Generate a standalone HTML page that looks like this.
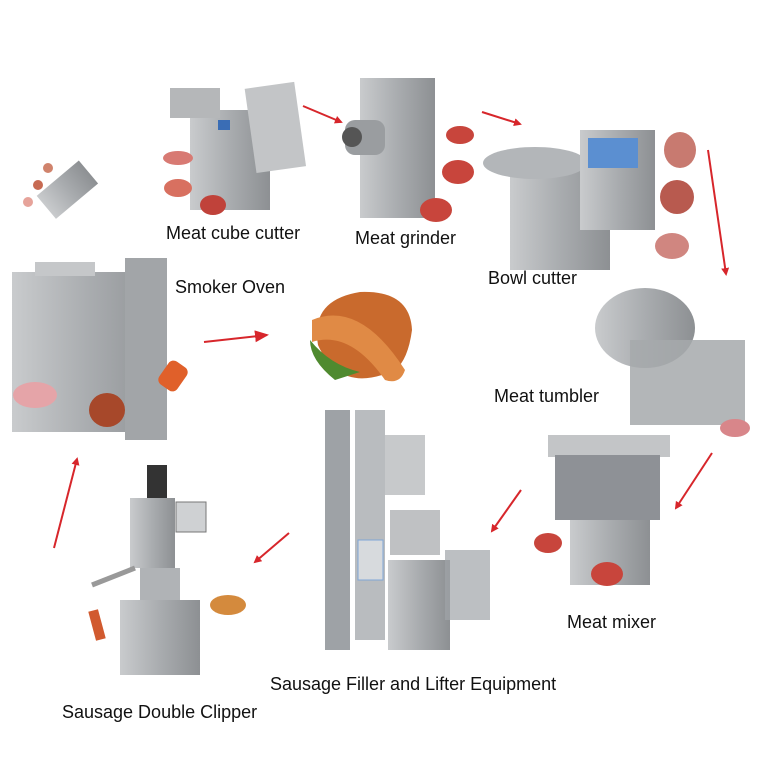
<!DOCTYPE html>
<html><head><style>
html,body{margin:0;padding:0;background:#fff;}
svg{display:block}
text{font-family:"Liberation Sans","DejaVu Sans",sans-serif;font-size:18px;fill:#111}
</style></head><body>
<svg width="768" height="768" viewBox="0 0 768 768" xmlns="http://www.w3.org/2000/svg">
<defs>
<linearGradient id="st" x1="0" x2="1"><stop offset="0" stop-color="#c9cbcd"/><stop offset="0.5" stop-color="#a9acaf"/><stop offset="1" stop-color="#8d9093"/></linearGradient>
<marker id="ah" markerWidth="8" markerHeight="8" refX="6" refY="4" orient="auto" markerUnits="userSpaceOnUse"><path d="M0,0 L8,4 L0,8 z" fill="#d7262b"/></marker>
<marker id="ah2" markerWidth="14" markerHeight="12" refX="12" refY="6" orient="auto" markerUnits="userSpaceOnUse"><path d="M0,0 L14,6 L0,12 z" fill="#d7262b"/></marker>
</defs>
<rect width="768" height="768" fill="#fff"/>
<!-- small clipper top-left -->
<rect x="40" y="175" width="55" height="30" fill="url(#st)" transform="rotate(-40 67 190)"/>
<circle cx="48" cy="168" r="5" fill="#d0836c"/><circle cx="38" cy="185" r="5" fill="#c76a52"/><circle cx="28" cy="202" r="5" fill="#e6a39a"/>
<!-- meat cube cutter -->
<rect x="190" y="110" width="80" height="100" fill="url(#st)"/>
<rect x="170" y="88" width="50" height="30" fill="#b5b7b9"/>
<rect x="250" y="85" width="50" height="85" fill="#c3c5c7" transform="rotate(-8 275 125)"/>
<rect x="218" y="120" width="12" height="10" fill="#3a6db5"/>
<ellipse cx="178" cy="158" rx="15" ry="7" fill="#d87a73"/><ellipse cx="178" cy="188" rx="14" ry="9" fill="#d87060"/><ellipse cx="213" cy="205" rx="13" ry="10" fill="#c0423a"/>
<!-- grinder -->
<rect x="360" y="78" width="75" height="140" fill="url(#st)"/>
<rect x="345" y="120" width="40" height="35" rx="10" fill="#9a9da0"/>
<circle cx="352" cy="137" r="10" fill="#555"/>
<ellipse cx="460" cy="135" rx="14" ry="9" fill="#c8453c"/><ellipse cx="458" cy="172" rx="16" ry="12" fill="#c8453c"/><ellipse cx="436" cy="210" rx="16" ry="12" fill="#c8453c"/>
<!-- bowl cutter -->
<rect x="510" y="165" width="100" height="105" fill="url(#st)"/>
<ellipse cx="535" cy="163" rx="52" ry="16" fill="#b3b6b9"/>
<rect x="580" y="130" width="75" height="100" fill="url(#st)"/>
<rect x="588" y="138" width="50" height="30" fill="#5b8fd1"/>
<ellipse cx="680" cy="150" rx="16" ry="18" fill="#c87a70"/><ellipse cx="677" cy="197" rx="17" ry="17" fill="#b85a4f"/><ellipse cx="672" cy="246" rx="17" ry="13" fill="#d08680"/>
<!-- tumbler -->
<ellipse cx="645" cy="328" rx="50" ry="40" fill="url(#st)"/>
<rect x="630" y="340" width="115" height="85" fill="#a6a9ac" opacity="0.85"/>
<ellipse cx="735" cy="428" rx="15" ry="9" fill="#d8868a"/>
<!-- mixer -->
<rect x="548" y="435" width="122" height="22" fill="#c3c5c7"/>
<rect x="555" y="455" width="105" height="65" fill="#8e9196"/>
<rect x="570" y="520" width="80" height="65" fill="url(#st)"/>
<ellipse cx="548" cy="543" rx="14" ry="10" fill="#c8453c"/><ellipse cx="607" cy="574" rx="16" ry="12" fill="#c8453c"/>
<!-- filler -->
<rect x="325" y="410" width="25" height="240" fill="#9ea2a6"/>
<rect x="355" y="410" width="30" height="230" fill="#b9bcbf"/>
<rect x="385" y="435" width="40" height="60" fill="#c7c9cb"/>
<rect x="390" y="510" width="50" height="45" fill="#bfc1c3"/>
<rect x="388" y="560" width="62" height="90" fill="url(#st)"/>
<rect x="358" y="540" width="25" height="40" fill="#d7dadd" stroke="#7fa6d6"/>
<rect x="445" y="550" width="45" height="70" fill="#a0a4a8" opacity="0.7"/>
<!-- clipper -->
<rect x="147" y="465" width="20" height="35" fill="#333"/>
<rect x="130" y="498" width="45" height="70" fill="url(#st)"/>
<rect x="176" y="502" width="30" height="30" fill="#cfd1d3" stroke="#777"/>
<rect x="120" y="600" width="80" height="75" fill="url(#st)"/>
<rect x="140" y="568" width="40" height="32" fill="#b0b3b6"/>
<line x1="92" y1="585" x2="135" y2="568" stroke="#999" stroke-width="5"/>
<ellipse cx="228" cy="605" rx="18" ry="10" fill="#d48a3d"/>
<rect x="92" y="610" width="10" height="30" fill="#d15a2f" transform="rotate(-15 97 625)"/>
<!-- smoker -->
<rect x="12" y="272" width="155" height="160" fill="url(#st)"/>
<rect x="125" y="258" width="42" height="182" fill="#a2a5a8"/>
<rect x="35" y="262" width="60" height="14" fill="#c5c7c9"/>
<ellipse cx="35" cy="395" rx="22" ry="13" fill="#e5a4a8"/>
<ellipse cx="107" cy="410" rx="18" ry="17" fill="#a7482a"/>
<rect x="162" y="362" width="22" height="28" rx="6" fill="#e0602a" transform="rotate(35 173 376)"/>
<!-- sausages -->
<path d="M318,345 Q310,300 360,292 Q410,290 412,330 Q408,360 395,370 Q340,395 318,345z" fill="#c96a2d"/>
<path d="M312,320 Q360,300 405,370 Q400,385 385,380 Q350,330 312,342z" fill="#e08a45"/>
<path d="M310,340 Q330,365 360,372 L335,380 Q310,360 310,340z" fill="#4f8a2f"/>
<!-- arrows -->
<g stroke="#d7262b" stroke-width="2" fill="none">
<line x1="303" y1="106" x2="341" y2="122" marker-end="url(#ah)"/>
<line x1="482" y1="112" x2="520" y2="124" marker-end="url(#ah)"/>
<line x1="708" y1="150" x2="726" y2="274" marker-end="url(#ah)"/>
<line x1="712" y1="453" x2="676" y2="508" marker-end="url(#ah)"/>
<line x1="521" y1="490" x2="492" y2="531" marker-end="url(#ah)"/>
<line x1="289" y1="533" x2="255" y2="562" marker-end="url(#ah)"/>
<line x1="54" y1="548" x2="77" y2="459" marker-end="url(#ah)"/>
<line x1="204" y1="342" x2="267" y2="335" marker-end="url(#ah2)"/>
</g>
<!-- labels -->
<text x="166" y="239">Meat cube cutter</text>
<text x="355" y="244">Meat grinder</text>
<text x="488" y="284">Bowl cutter</text>
<text x="175" y="293">Smoker Oven</text>
<text x="494" y="402">Meat tumbler</text>
<text x="567" y="628">Meat mixer</text>
<text x="270" y="690">Sausage Filler and Lifter Equipment</text>
<text x="62" y="718">Sausage Double Clipper</text>
</svg>
</body></html>
